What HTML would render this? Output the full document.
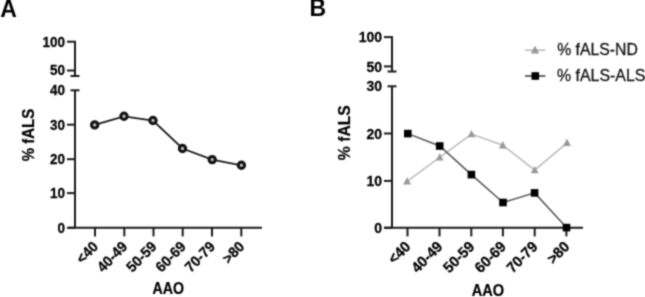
<!DOCTYPE html>
<html><head><meta charset="utf-8"><style>
html,body{margin:0;padding:0;background:#fff;}
body{width:645px;height:297px;overflow:hidden;}
svg{display:block;font-family:"Liberation Sans",sans-serif;}

</style></head><body>
<svg width="645" height="297" viewBox="0 0 645 297">
<defs><filter id="bl" x="0" y="0" width="645" height="297" filterUnits="userSpaceOnUse" color-interpolation-filters="sRGB"><feConvolveMatrix order="3" kernelMatrix="1 3 1 3 9 3 1 3 1" divisor="25" edgeMode="duplicate"/></filter></defs>
<g filter="url(#bl)"><rect x="0" y="0" width="645" height="297" fill="#fff"/>

<g stroke="#1a1a1a" stroke-width="2" fill="none" stroke-linecap="butt">
<line x1="75" y1="90.3" x2="75" y2="227.8" />
<line x1="70.5" y1="90.3" x2="79.5" y2="90.3" />
<line x1="75" y1="41.7" x2="75" y2="76" />
<line x1="70.5" y1="76" x2="79.5" y2="76" />
<line x1="67" y1="41.7" x2="76" y2="41.7" />
<line x1="67" y1="70.5" x2="75" y2="70.5" />
<line x1="67" y1="124.7" x2="75" y2="124.7" />
<line x1="67" y1="159.2" x2="75" y2="159.2" />
<line x1="67" y1="193.1" x2="75" y2="193.1" />
<line x1="67" y1="227.8" x2="75" y2="227.8" />
<line x1="68" y1="227.8" x2="262" y2="227.8" />
<line x1="95" y1="227.8" x2="95" y2="236.4" />
<line x1="124.3" y1="227.8" x2="124.3" y2="236.4" />
<line x1="153.5" y1="227.8" x2="153.5" y2="236.4" />
<line x1="182.7" y1="227.8" x2="182.7" y2="236.4" />
<line x1="212" y1="227.8" x2="212" y2="236.4" />
<line x1="241.3" y1="227.8" x2="241.3" y2="236.4" />
<line x1="392" y1="86.3" x2="392" y2="227.8" />
<line x1="387.5" y1="86.3" x2="396.5" y2="86.3" />
<line x1="392" y1="37.1" x2="392" y2="71.5" />
<line x1="387.5" y1="71.5" x2="396.5" y2="71.5" />
<line x1="384" y1="37.1" x2="393" y2="37.1" />
<line x1="384" y1="66.4" x2="392" y2="66.4" />
<line x1="384" y1="133.5" x2="392" y2="133.5" />
<line x1="384" y1="180.9" x2="392" y2="180.9" />
<line x1="384" y1="227.8" x2="392" y2="227.8" />
<line x1="384" y1="227.8" x2="583" y2="227.8" />
<line x1="407.5" y1="227.8" x2="407.5" y2="236.4" />
<line x1="439.5" y1="227.8" x2="439.5" y2="236.4" />
<line x1="471.3" y1="227.8" x2="471.3" y2="236.4" />
<line x1="502.9" y1="227.8" x2="502.9" y2="236.4" />
<line x1="534.7" y1="227.8" x2="534.7" y2="236.4" />
<line x1="566.4" y1="227.8" x2="566.4" y2="236.4" />
</g>
<polyline fill="none" stroke="#1a1a1a" stroke-width="1.8" points="94.7,124.9 124.0,116.3 153,120.5 182.5,148.5 212.2,159.6 241.4,165.3"/>
<circle cx="94.7" cy="124.9" r="3.2" fill="#bbb" stroke="#111" stroke-width="3"/>
<circle cx="124.0" cy="116.3" r="3.2" fill="#bbb" stroke="#111" stroke-width="3"/>
<circle cx="153" cy="120.5" r="3.2" fill="#bbb" stroke="#111" stroke-width="3"/>
<circle cx="182.5" cy="148.5" r="3.2" fill="#bbb" stroke="#111" stroke-width="3"/>
<circle cx="212.2" cy="159.6" r="3.2" fill="#bbb" stroke="#111" stroke-width="3"/>
<circle cx="241.4" cy="165.3" r="3.2" fill="#bbb" stroke="#111" stroke-width="3"/>
<polyline fill="none" stroke="#bdbdbd" stroke-width="1.6" points="407.1,181.4 439.7,157.4 471.5,134.1 502.8,145.3 534.7,170.1 567,142.8"/>
<polyline fill="none" stroke="#555" stroke-width="1.5" points="407.8,133.6 439.7,146 471.4,174.6 503,202.5 534.6,192.9 566.5,227.6"/>
<path d="M407.1,177.20000000000002 L411.0,184.5 L403.20000000000005,184.5 Z" fill="#999"/>
<path d="M439.7,153.20000000000002 L443.59999999999997,160.5 L435.8,160.5 Z" fill="#999"/>
<path d="M471.5,129.9 L475.4,137.2 L467.6,137.2 Z" fill="#999"/>
<path d="M502.8,141.10000000000002 L506.7,148.4 L498.90000000000003,148.4 Z" fill="#999"/>
<path d="M534.7,165.9 L538.6,173.2 L530.8000000000001,173.2 Z" fill="#999"/>
<path d="M567,138.60000000000002 L570.9,145.9 L563.1,145.9 Z" fill="#999"/>
<rect x="404.0" y="129.79999999999998" width="7.6" height="7.6" fill="#000"/>
<rect x="435.9" y="142.2" width="7.6" height="7.6" fill="#000"/>
<rect x="467.59999999999997" y="170.79999999999998" width="7.6" height="7.6" fill="#000"/>
<rect x="499.2" y="198.7" width="7.6" height="7.6" fill="#000"/>
<rect x="530.8000000000001" y="189.1" width="7.6" height="7.6" fill="#000"/>
<rect x="562.7" y="223.79999999999998" width="7.6" height="7.6" fill="#000"/>
<line x1="525" y1="50.2" x2="545.4" y2="50.2" stroke="#bbb" stroke-width="1.6"/>
<path d="M535,45.8 L539.2,53.4 L530.8,53.4 Z" fill="#999"/>
<line x1="525" y1="76" x2="545.4" y2="76" stroke="#444" stroke-width="1.6"/>
<rect x="531.5" y="72.2" width="7.6" height="7.6" fill="#000"/>
<g font-size="15.5" fill="#111" stroke="#111" stroke-width="0.25"><text font-size="15.8" transform="translate(557.2 55.1) scale(1 1.045)">% fALS-ND</text><text font-size="15.9" transform="translate(557 80.9) scale(1 1.045)">% fALS-ALS</text></g>
<g font-weight="bold" font-size="13.5" fill="#000" stroke="#000" stroke-width="0.25">
<text text-anchor="end" font-size="13.5" transform="translate(65 46.650000000000006) scale(1 1.045)">100</text>
<text text-anchor="end" font-size="13.5" transform="translate(65 75.45) scale(1 1.045)">50</text>
<text text-anchor="end" font-size="13.5" transform="translate(65 95.25) scale(1 1.045)">40</text>
<text text-anchor="end" font-size="13.5" transform="translate(65 129.65) scale(1 1.045)">30</text>
<text text-anchor="end" font-size="13.5" transform="translate(65 164.14999999999998) scale(1 1.045)">20</text>
<text text-anchor="end" font-size="13.5" transform="translate(65 198.04999999999998) scale(1 1.045)">10</text>
<text text-anchor="end" font-size="13.5" transform="translate(65 232.75) scale(1 1.045)">0</text>
<text text-anchor="end" font-size="14" transform="translate(382 42.233333333333334) scale(1 1.045)">100</text>
<text text-anchor="end" font-size="14" transform="translate(382 71.53333333333333) scale(1 1.045)">50</text>
<text text-anchor="end" font-size="14" transform="translate(382 91.43333333333334) scale(1 1.045)">30</text>
<text text-anchor="end" font-size="14" transform="translate(382 138.63333333333333) scale(1 1.045)">20</text>
<text text-anchor="end" font-size="14" transform="translate(382 186.03333333333333) scale(1 1.045)">10</text>
<text text-anchor="end" font-size="14" transform="translate(382 232.93333333333334) scale(1 1.045)">0</text>
<text text-anchor="end" font-size="14" transform="translate(99 247.6) rotate(-45) scale(1 1.045)">&lt;40</text>
<text text-anchor="end" font-size="14" transform="translate(128.3 247.6) rotate(-45) scale(1 1.045)">40-49</text>
<text text-anchor="end" font-size="14" transform="translate(157.5 247.6) rotate(-45) scale(1 1.045)">50-59</text>
<text text-anchor="end" font-size="14" transform="translate(186.7 247.6) rotate(-45) scale(1 1.045)">60-69</text>
<text text-anchor="end" font-size="14" transform="translate(216 247.6) rotate(-45) scale(1 1.045)">70-79</text>
<text text-anchor="end" font-size="14" transform="translate(245.3 247.6) rotate(-45) scale(1 1.045)">&gt;80</text>
<text text-anchor="end" font-size="14.4" transform="translate(411.5 247.6) rotate(-45) scale(1 1.045)">&lt;40</text>
<text text-anchor="end" font-size="14.4" transform="translate(443.5 247.6) rotate(-45) scale(1 1.045)">40-49</text>
<text text-anchor="end" font-size="14.4" transform="translate(475.3 247.6) rotate(-45) scale(1 1.045)">50-59</text>
<text text-anchor="end" font-size="14.4" transform="translate(506.9 247.6) rotate(-45) scale(1 1.045)">60-69</text>
<text text-anchor="end" font-size="14.4" transform="translate(538.7 247.6) rotate(-45) scale(1 1.045)">70-79</text>
<text text-anchor="end" font-size="14.4" transform="translate(570.4 247.6) rotate(-45) scale(1 1.045)">&gt;80</text>
</g>
<g font-weight="bold" font-size="15" fill="#000" stroke="#000" stroke-width="0.2">
<text text-anchor="middle" font-size="15" transform="translate(33.5 135) rotate(-90) scale(1 1.045)">% fALS</text>
<text text-anchor="middle" font-size="15.7" transform="translate(349.9 132.7) rotate(-90) scale(1 1.045)">% fALS</text>
<text text-anchor="middle" font-size="14.2" transform="translate(168.3 294.2) scale(1 1.12)">AAO</text>
<text text-anchor="middle" font-size="14.6" transform="translate(488 296.2) scale(1 1.12)">AAO</text>
</g>
<g font-weight="bold" font-size="23" fill="#000"><text transform="translate(0.3 16.5) scale(1 1.045)">A</text><text transform="translate(309.5 16.2) scale(1 1.045)">B</text></g>
</g></svg></body></html>
